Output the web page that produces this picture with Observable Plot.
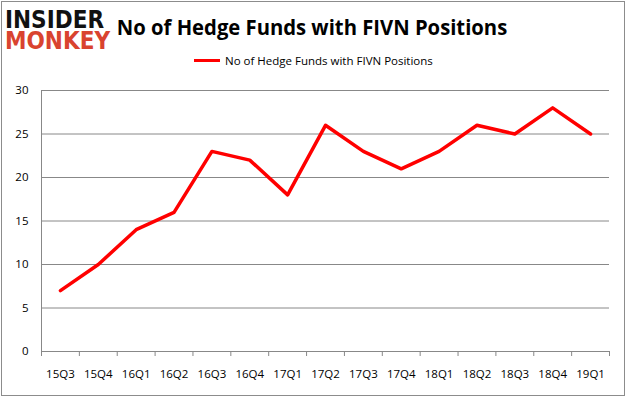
<!DOCTYPE html>
<html>
<head>
<meta charset="utf-8">
<script src="https://cdn.jsdelivr.net/npm/d3@7"></script>
<script src="https://cdn.jsdelivr.net/npm/@observablehq/plot@0.6"></script>
<style>
  html, body { margin: 0; padding: 0; background: #fff; }
  #wrap { position: relative; width: 626px; height: 397px; overflow: hidden; background: #fff; }
  #frame { position: absolute; left: 1px; top: 1px; width: 622px; height: 393px; border: 1px solid #8c8c8c; box-sizing: content-box; pointer-events: none; }
  #chart { position: absolute; left: 0; top: 0; }
  #title { position: absolute; left: -1.5px; width: 626px; top: 10.5px; text-align: center; line-height: normal;
           font-family: "Open Sans", sans-serif; font-weight: 700; font-size: 22px; color: #000; white-space: nowrap;
           transform: scaleX(0.92); transform-origin: center top; }
  #legend { position: absolute; left: 194px; top: 53px; font-family: "Open Sans", sans-serif; font-size: 11.5px; color: #000; white-space: nowrap; }
  #legend .sw { display: inline-block; width: 26px; height: 3px; background: #ff0000; vertical-align: middle; margin-right: 5px; position: relative; top: -1px; }
  #logo { position: absolute; left: 5px; top: 10.2px; font-family: "DejaVu Sans", sans-serif; font-weight: 900; font-size: 24px; line-height: 21px;
          white-space: nowrap; transform-origin: left top; transform: scaleX(0.9); color: #111; }
  #logo .red { color: #d9432f; }
</style>
</head>
<body>
<div id="wrap">
  <div id="chart"></div>
  <div id="logo">INSIDER<br><span class="red">MONKEY</span></div>
  <div id="title">No of Hedge Funds with FIVN Positions</div>
  <div id="legend"><span class="sw"></span>No of Hedge Funds with FIVN Positions</div>
  <div id="frame"></div>
</div>
<script>
const quarters = ["15Q3","15Q4","16Q1","16Q2","16Q3","16Q4","17Q1","17Q2","17Q3","17Q4","18Q1","18Q2","18Q3","18Q4","19Q1"];
const funds = [7, 10, 14, 16, 23, 22, 18, 26, 23, 21, 23, 26, 25, 28, 25];
const yTicks = [0, 5, 10, 15, 20, 25, 30];

const data = quarters.map((q, i) => ({i, q, v: funds[i]}));
const bounds = d3.range(-0.5, quarters.length, 1);

const plot = Plot.plot({
  width: 626,
  height: 397,
  marginLeft: 41,
  marginRight: 17,
  marginTop: 90,
  marginBottom: 46,
  style: {fontFamily: "'Open Sans', sans-serif", fontSize: "11.5px", color: "#000", background: "transparent"},
  x: {type: "linear", domain: [-0.5, quarters.length - 0.5]},
  y: {domain: [0, 30]},
  marks: [
    Plot.gridY(yTicks, {stroke: "#888", strokeOpacity: 1, strokeWidth: 1}),
    Plot.ruleX([-0.5], {stroke: "#888"}),
    Plot.ruleY([0], {stroke: "#888"}),
    Plot.axisY(yTicks, {tickSize: 0, tickPadding: 13, label: null, fill: "#000"}),
    Plot.axisX(bounds, {tickSize: 5, tickFormat: () => "", label: null, stroke: "#888"}),
    Plot.axisX(d3.range(quarters.length), {tickSize: 0, tickPadding: 18, tickFormat: i => quarters[i], label: null, fill: "#000"}),
    Plot.line(data, {x: "i", y: "v", stroke: "#ff0000", strokeWidth: 3.5, strokeLinejoin: "round", strokeLinecap: "round"})
  ]
});
document.getElementById("chart").appendChild(plot);
</script>
</body>
</html>
